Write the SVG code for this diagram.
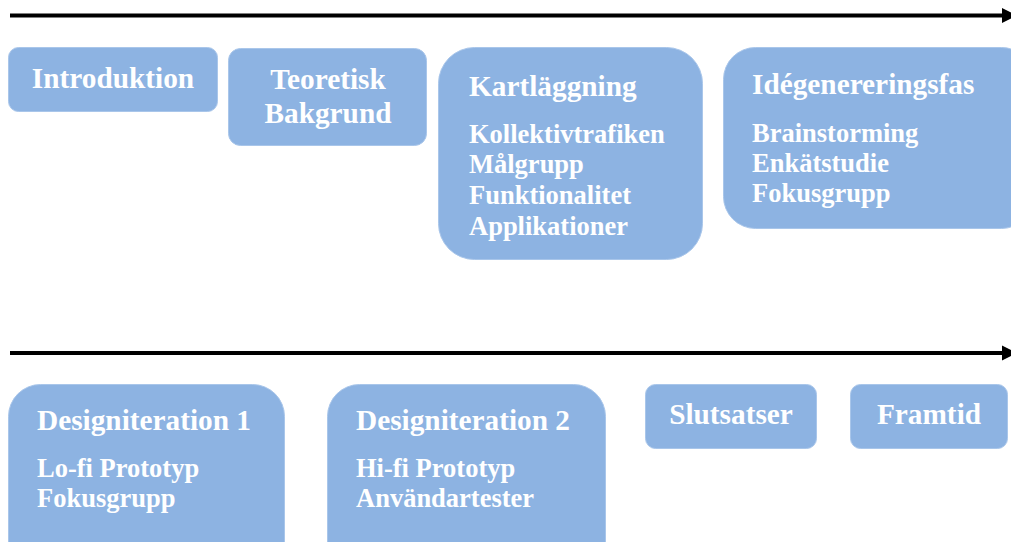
<svg xmlns="http://www.w3.org/2000/svg" width="1011" height="542" viewBox="0 0 1011 542">
<style>
.box{fill:#8db3e2;stroke:#a9c6ea;stroke-width:1}
.t{font-family:"Liberation Serif","Times New Roman",serif;font-weight:bold;fill:#fff;font-size:29.3px}
.s{font-family:"Liberation Serif","Times New Roman",serif;font-weight:bold;fill:#fff;font-size:26.5px}
.c{text-anchor:middle}
.ln{stroke:#000;stroke-width:4;fill:none}
</style>
<rect width="1011" height="542" fill="#fff"/>
<g id="connectors">
<line class="ln" x1="10" y1="15.5" x2="1006" y2="15.5"/>
<polygon points="1002,8 1017,15.5 1002,23" fill="#000"/>
<line class="ln" x1="10" y1="353" x2="1006" y2="353"/>
<polygon points="1002,345.5 1017,353 1002,360.5" fill="#000"/>
</g>
<g id="introduktion">
<rect class="box" x="8.5" y="47.5" width="209" height="64" rx="10"/>
<text class="t c" x="113" y="88">Introduktion</text>
</g>
<g id="teoretisk">
<rect class="box" x="228.5" y="48.5" width="198" height="97" rx="12"/>
<text class="t c" x="328" y="89">Teoretisk</text>
<text class="t c" x="328" y="123">Bakgrund</text>
</g>
<g id="kartlaggning">
<rect class="box" x="438.5" y="47.5" width="264" height="212" rx="36"/>
<text class="t" x="469" y="96">Kartläggning</text>
<text class="s" x="469" y="143">Kollektivtrafiken</text>
<text class="s" x="469" y="173">Målgrupp</text>
<text class="s" x="469" y="204">Funktionalitet</text>
<text class="s" x="469" y="235">Applikationer</text>
</g>
<g id="idegenerering">
<rect class="box" x="723.5" y="47.5" width="310" height="181" rx="32"/>
<text class="t" x="752" y="94">Idégenereringsfas</text>
<text class="s" x="752" y="142">Brainstorming</text>
<text class="s" x="752" y="172">Enkätstudie</text>
<text class="s" x="752" y="202">Fokusgrupp</text>
</g>
<g id="designiteration1">
<rect class="box" x="8.5" y="384.5" width="276" height="190" rx="32"/>
<text class="t" x="37" y="430">Designiteration 1</text>
<text class="s" x="37" y="477">Lo-fi Prototyp</text>
<text class="s" x="37" y="507">Fokusgrupp</text>
</g>
<g id="designiteration2">
<rect class="box" x="327.5" y="384.5" width="278" height="190" rx="32"/>
<text class="t" x="356" y="430">Designiteration 2</text>
<text class="s" x="356" y="477">Hi-fi Prototyp</text>
<text class="s" x="356" y="507">Användartester</text>
</g>
<g id="slutsatser">
<rect class="box" x="645.5" y="384.5" width="171" height="64" rx="10"/>
<text class="t c" x="731" y="424">Slutsatser</text>
</g>
<g id="framtid">
<rect class="box" x="850.5" y="384.5" width="157" height="64" rx="10"/>
<text class="t c" x="929" y="424">Framtid</text>
</g>
</svg>
